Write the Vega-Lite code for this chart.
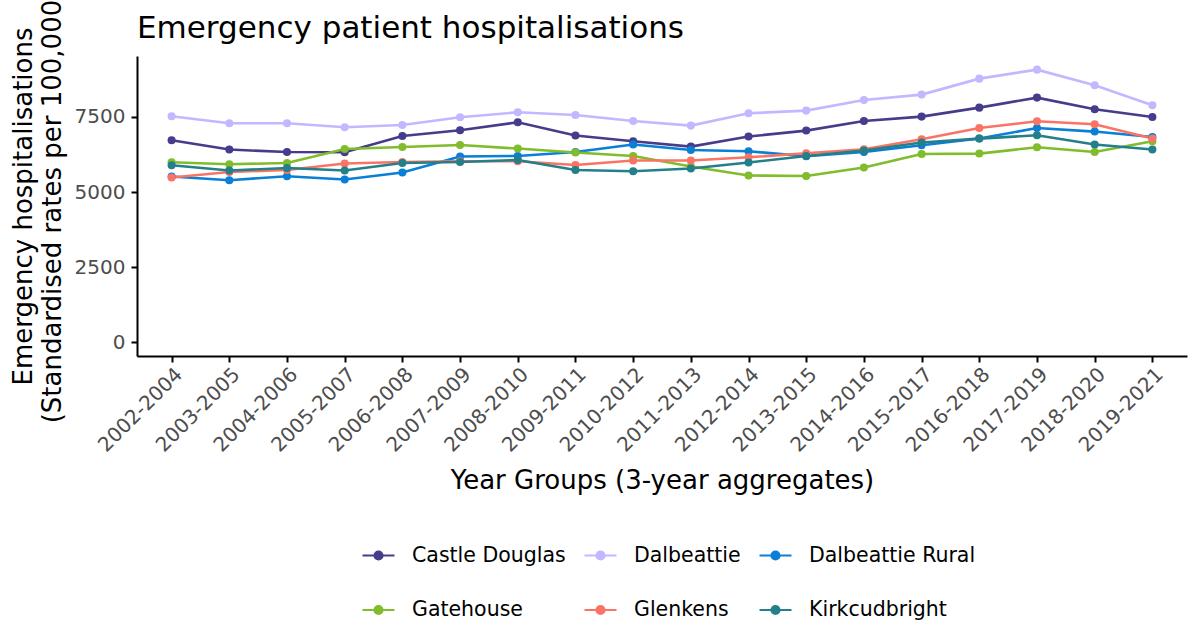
{
  "$schema": "https://vega.github.io/schema/vega-lite/v6.json",
  "width": 1050,
  "height": 300,
  "autosize": {"type": "none"},
  "padding": {"left": 137, "top": 56, "right": 2, "bottom": 267},
  "background": "white",
  "title": {
    "text": "Emergency patient hospitalisations",
    "anchor": "start",
    "frame": "group",
    "font": "DejaVu Sans",
    "fontSize": 31,
    "fontWeight": "normal",
    "color": "black",
    "baseline": "alphabetic",
    "offset": 19,
    "dy": 99
  },
  "config": {
    "font": "DejaVu Sans",
    "view": {"stroke": null},
    "axis": {
      "domainColor": "black",
      "domainWidth": 2,
      "tickColor": "black",
      "tickWidth": 2,
      "tickSize": 6,
      "grid": false,
      "labelFont": "DejaVu Sans",
      "labelFontSize": 20,
      "labelColor": "#4D4D4D",
      "titleFont": "DejaVu Sans",
      "titleFontSize": 26,
      "titleFontWeight": "normal",
      "titleColor": "black"
    },
    "legend": {
      "labelFont": "DejaVu Sans",
      "labelFontSize": 20.5,
      "labelColor": "black",
      "labelLimit": 400
    }
  },
  "data": {
    "values": [
      {"area": "Castle Douglas", "period": "2002-2004", "rate": 6725},
      {"area": "Castle Douglas", "period": "2003-2005", "rate": 6415},
      {"area": "Castle Douglas", "period": "2004-2006", "rate": 6336},
      {"area": "Castle Douglas", "period": "2005-2007", "rate": 6326},
      {"area": "Castle Douglas", "period": "2006-2008", "rate": 6868},
      {"area": "Castle Douglas", "period": "2007-2009", "rate": 7057},
      {"area": "Castle Douglas", "period": "2008-2010", "rate": 7323},
      {"area": "Castle Douglas", "period": "2009-2011", "rate": 6881},
      {"area": "Castle Douglas", "period": "2010-2012", "rate": 6691},
      {"area": "Castle Douglas", "period": "2011-2013", "rate": 6515},
      {"area": "Castle Douglas", "period": "2012-2014", "rate": 6848},
      {"area": "Castle Douglas", "period": "2013-2015", "rate": 7047},
      {"area": "Castle Douglas", "period": "2014-2016", "rate": 7366},
      {"area": "Castle Douglas", "period": "2015-2017", "rate": 7512},
      {"area": "Castle Douglas", "period": "2016-2018", "rate": 7811},
      {"area": "Castle Douglas", "period": "2017-2019", "rate": 8144},
      {"area": "Castle Douglas", "period": "2018-2020", "rate": 7755},
      {"area": "Castle Douglas", "period": "2019-2021", "rate": 7499},
      {"area": "Dalbeattie", "period": "2002-2004", "rate": 7522},
      {"area": "Dalbeattie", "period": "2003-2005", "rate": 7290},
      {"area": "Dalbeattie", "period": "2004-2006", "rate": 7290},
      {"area": "Dalbeattie", "period": "2005-2007", "rate": 7157},
      {"area": "Dalbeattie", "period": "2006-2008", "rate": 7233},
      {"area": "Dalbeattie", "period": "2007-2009", "rate": 7489},
      {"area": "Dalbeattie", "period": "2008-2010", "rate": 7655},
      {"area": "Dalbeattie", "period": "2009-2011", "rate": 7566},
      {"area": "Dalbeattie", "period": "2010-2012", "rate": 7366},
      {"area": "Dalbeattie", "period": "2011-2013", "rate": 7213},
      {"area": "Dalbeattie", "period": "2012-2014", "rate": 7622},
      {"area": "Dalbeattie", "period": "2013-2015", "rate": 7712},
      {"area": "Dalbeattie", "period": "2014-2016", "rate": 8064},
      {"area": "Dalbeattie", "period": "2015-2017", "rate": 8244},
      {"area": "Dalbeattie", "period": "2016-2018", "rate": 8776},
      {"area": "Dalbeattie", "period": "2017-2019", "rate": 9075},
      {"area": "Dalbeattie", "period": "2018-2020", "rate": 8553},
      {"area": "Dalbeattie", "period": "2019-2021", "rate": 7888},
      {"area": "Dalbeattie Rural", "period": "2002-2004", "rate": 5518},
      {"area": "Dalbeattie Rural", "period": "2003-2005", "rate": 5395},
      {"area": "Dalbeattie Rural", "period": "2004-2006", "rate": 5528},
      {"area": "Dalbeattie Rural", "period": "2005-2007", "rate": 5418},
      {"area": "Dalbeattie Rural", "period": "2006-2008", "rate": 5651},
      {"area": "Dalbeattie Rural", "period": "2007-2009", "rate": 6183},
      {"area": "Dalbeattie Rural", "period": "2008-2010", "rate": 6203},
      {"area": "Dalbeattie Rural", "period": "2009-2011", "rate": 6336},
      {"area": "Dalbeattie Rural", "period": "2010-2012", "rate": 6582},
      {"area": "Dalbeattie Rural", "period": "2011-2013", "rate": 6402},
      {"area": "Dalbeattie Rural", "period": "2012-2014", "rate": 6359},
      {"area": "Dalbeattie Rural", "period": "2013-2015", "rate": 6193},
      {"area": "Dalbeattie Rural", "period": "2014-2016", "rate": 6336},
      {"area": "Dalbeattie Rural", "period": "2015-2017", "rate": 6558},
      {"area": "Dalbeattie Rural", "period": "2016-2018", "rate": 6781},
      {"area": "Dalbeattie Rural", "period": "2017-2019", "rate": 7133},
      {"area": "Dalbeattie Rural", "period": "2018-2020", "rate": 7014},
      {"area": "Dalbeattie Rural", "period": "2019-2021", "rate": 6834},
      {"area": "Gatehouse", "period": "2002-2004", "rate": 5993},
      {"area": "Gatehouse", "period": "2003-2005", "rate": 5927},
      {"area": "Gatehouse", "period": "2004-2006", "rate": 5970},
      {"area": "Gatehouse", "period": "2005-2007", "rate": 6435},
      {"area": "Gatehouse", "period": "2006-2008", "rate": 6502},
      {"area": "Gatehouse", "period": "2007-2009", "rate": 6568},
      {"area": "Gatehouse", "period": "2008-2010", "rate": 6449},
      {"area": "Gatehouse", "period": "2009-2011", "rate": 6316},
      {"area": "Gatehouse", "period": "2010-2012", "rate": 6203},
      {"area": "Gatehouse", "period": "2011-2013", "rate": 5850},
      {"area": "Gatehouse", "period": "2012-2014", "rate": 5551},
      {"area": "Gatehouse", "period": "2013-2015", "rate": 5538},
      {"area": "Gatehouse", "period": "2014-2016", "rate": 5817},
      {"area": "Gatehouse", "period": "2015-2017", "rate": 6269},
      {"area": "Gatehouse", "period": "2016-2018", "rate": 6282},
      {"area": "Gatehouse", "period": "2017-2019", "rate": 6492},
      {"area": "Gatehouse", "period": "2018-2020", "rate": 6336},
      {"area": "Gatehouse", "period": "2019-2021", "rate": 6691},
      {"area": "Glenkens", "period": "2002-2004", "rate": 5485},
      {"area": "Glenkens", "period": "2003-2005", "rate": 5671},
      {"area": "Glenkens", "period": "2004-2006", "rate": 5737},
      {"area": "Glenkens", "period": "2005-2007", "rate": 5950},
      {"area": "Glenkens", "period": "2006-2008", "rate": 6003},
      {"area": "Glenkens", "period": "2007-2009", "rate": 6026},
      {"area": "Glenkens", "period": "2008-2010", "rate": 6026},
      {"area": "Glenkens", "period": "2009-2011", "rate": 5904},
      {"area": "Glenkens", "period": "2010-2012", "rate": 6050},
      {"area": "Glenkens", "period": "2011-2013", "rate": 6050},
      {"area": "Glenkens", "period": "2012-2014", "rate": 6159},
      {"area": "Glenkens", "period": "2013-2015", "rate": 6292},
      {"area": "Glenkens", "period": "2014-2016", "rate": 6425},
      {"area": "Glenkens", "period": "2015-2017", "rate": 6758},
      {"area": "Glenkens", "period": "2016-2018", "rate": 7133},
      {"area": "Glenkens", "period": "2017-2019", "rate": 7356},
      {"area": "Glenkens", "period": "2018-2020", "rate": 7256},
      {"area": "Glenkens", "period": "2019-2021", "rate": 6781},
      {"area": "Kirkcudbright", "period": "2002-2004", "rate": 5893},
      {"area": "Kirkcudbright", "period": "2003-2005", "rate": 5717},
      {"area": "Kirkcudbright", "period": "2004-2006", "rate": 5804},
      {"area": "Kirkcudbright", "period": "2005-2007", "rate": 5717},
      {"area": "Kirkcudbright", "period": "2006-2008", "rate": 5970},
      {"area": "Kirkcudbright", "period": "2007-2009", "rate": 6003},
      {"area": "Kirkcudbright", "period": "2008-2010", "rate": 6070},
      {"area": "Kirkcudbright", "period": "2009-2011", "rate": 5737},
      {"area": "Kirkcudbright", "period": "2010-2012", "rate": 5694},
      {"area": "Kirkcudbright", "period": "2011-2013", "rate": 5784},
      {"area": "Kirkcudbright", "period": "2012-2014", "rate": 5983},
      {"area": "Kirkcudbright", "period": "2013-2015", "rate": 6203},
      {"area": "Kirkcudbright", "period": "2014-2016", "rate": 6382},
      {"area": "Kirkcudbright", "period": "2015-2017", "rate": 6648},
      {"area": "Kirkcudbright", "period": "2016-2018", "rate": 6781},
      {"area": "Kirkcudbright", "period": "2017-2019", "rate": 6891},
      {"area": "Kirkcudbright", "period": "2018-2020", "rate": 6582},
      {"area": "Kirkcudbright", "period": "2019-2021", "rate": 6415}
    ]
  },
  "encoding": {
    "x": {
      "field": "period",
      "type": "ordinal",
      "scale": {"type": "point", "padding": 0.6},
      "axis": {
        "title": "Year Groups (3-year aggregates)",
        "labelAngle": -45,
        "labelAlign": "right",
        "labelBaseline": "top",
        "labelPadding": 2,
        "titlePadding": 12
      }
    },
    "y": {
      "field": "rate",
      "type": "quantitative",
      "scale": {"domain": [-454, 9529], "nice": false, "zero": false},
      "axis": {
        "title": ["Emergency hospitalisations", "(Standardised rates per 100,000)"],
        "titleLineHeight": 29,
        "values": [0, 2500, 5000, 7500],
        "format": "d",
        "labelPadding": 6,
        "titlePadding": 9
      }
    },
    "color": {
      "field": "area",
      "type": "nominal",
      "scale": {
        "domain": ["Castle Douglas", "Dalbeattie", "Dalbeattie Rural", "Gatehouse", "Glenkens", "Kirkcudbright"],
        "range": ["#453C8B", "#C2B8FF", "#0A7FD6", "#80BC2C", "#FA7465", "#23808A"]
      },
      "legend": {
        "title": null,
        "orient": "none",
        "legendX": 224,
        "legendY": 482,
        "direction": "horizontal",
        "columns": 3,
        "symbolType": "M-1,0L1,0M0.25,0A0.25,0.25,0,1,1,-0.25,0A0.25,0.25,0,1,1,0.25,0Z",
        "symbolSize": 1024,
        "symbolStrokeWidth": 2.2,
        "labelOffset": 16,
        "columnPadding": 14,
        "rowPadding": 26.5,
        "encode": {
          "symbols": {"update": {"fill": {"scale": "color", "field": "value"}, "fillOpacity": {"value": 1}}}
        }
      }
    }
  },
  "layer": [
    {"mark": {"type": "line", "strokeWidth": 2.6}},
    {"mark": {"type": "circle", "size": 65, "opacity": 1}}
  ]
}
